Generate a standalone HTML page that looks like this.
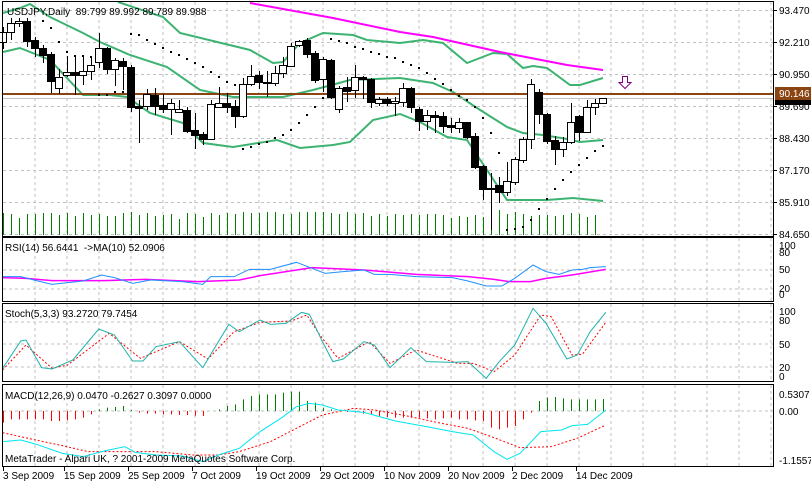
<!DOCTYPE html>
<html><head><meta charset="utf-8"><style>
html,body{margin:0;padding:0;background:#fff;}
svg{display:block;font-family:"Liberation Sans",sans-serif;font-size:10px;}
</style></head><body>
<svg id="s" width="811" height="483" xmlns="http://www.w3.org/2000/svg">
<rect width="811" height="483" fill="#fff"/>
<g id="grid" stroke="#c0c0c0" stroke-dasharray="3,3" stroke-width="1"></g>
<g id="g"></g>
<g fill="none" stroke="#000" stroke-width="1">
<rect x="2.5" y="1.5" width="771" height="235"/>
<rect x="2.5" y="237.5" width="771" height="64"/>
<rect x="2.5" y="303.5" width="771" height="78"/>
<rect x="2.5" y="384.5" width="771" height="82"/>
</g>
<g fill="#000">
<text x="7" y="15">USDJPY,Daily&#160; 89.799 89.992 89.789 89.988</text>
<text x="5" y="251">RSI(14) 56.6441 &#160;-&gt;MA(10) 52.0906</text>
<text x="5" y="317">Stoch(5,3,3) 93.2720 79.7454</text>
<text x="5" y="399">MACD(12,26,9) 0.0470 -0.2627 0.3097 0.0000</text>
<text x="5" y="462">MetaTrader - Alpari UK, ? 2001-2009 MetaQuotes Software Corp.</text>
</g>
<g id="ax" fill="#000"></g>
</svg>
<script>
var NS="http://www.w3.org/2000/svg",g=document.getElementById('g'),grid=document.getElementById('grid'),ax=document.getElementById('ax');
function el(p,t,a){var e=document.createElementNS(NS,t);for(var k in a)e.setAttribute(k,a[k]);p.appendChild(e);return e;}
function txt(p,x,y,s,a){var e=el(p,'text',Object.assign({x:x,y:y},a||{}));e.textContent=s;return e;}
function line(x1,y1,x2,y2,c,w,p){return el(p||g,'line',{x1:x1,y1:y1,x2:x2,y2:y2,stroke:c,'stroke-width':w||1});}
function poly(pts,c,w,dash){var a={points:pts.map(function(p){return p[0]+','+p[1]}).join(' '),fill:'none',stroke:c,'stroke-width':w||1};if(dash)a['stroke-dasharray']=dash;el(g,'polyline',a);}
// vertical grid
for(var x=35;x<773;x+=32){[[2,236],[238,301],[304,381],[385,466]].forEach(function(r){line(x,r[0],x,r[1],'#c0c0c0',1,grid);});}
// horizontal grid main
var prices=['93.470','92.210','90.950','89.690','88.430','87.170','85.910','84.650'];
prices.forEach(function(p,i){var y=10+32*i;line(3,y+.5,773,y+.5,'#c0c0c0',1,grid);line(773,y+.5,777,y+.5,'#000',1,ax);txt(ax,779,y+4,p);});
[270,289].forEach(function(y){line(3,y,773,y,'#c0c0c0',1,grid)});
txt(ax,779,249,'100');txt(ax,779,256,'80');txt(ax,779,273,'50');txt(ax,779,292,'20');txt(ax,779,298,'0');
[322,344,367].forEach(function(y){line(3,y,773,y,'#c0c0c0',1,grid)});
txt(ax,779,315,'100');txt(ax,779,324,'80');txt(ax,779,348,'50');txt(ax,779,371,'20');txt(ax,779,380,'0');
line(3,411,773,411,'#c0c0c0',1,grid);
txt(ax,779,398,'0.5307');txt(ax,779,415,'0.00');txt(ax,779,464,'-1.1557');
// volume
var vh=[22,21,17,21,21,22,22,20,22,19,22,20,21,19,19,22,23,20,22,19,20,21,16,22,21,18,22,20,22,21,23,22,22,23,23,21,21,23,23,23,23,22,21,23,21,22,19,21,19,21,20,21,20,21,21,20,17,19,18,20,18,22,25,21,23,21,19,20,20,19,20,22,21,18,20,0];
vh.forEach(function(h,i){var x=3+8*i+.5;line(x,235,x,235-h,'#008000',1);});
// bands
poly([[3,13],[20,8],[30,4],[50,17],[83,33],[100,42],[130,55],[167,67],[200,90],[233,97],[283,97],[313,90],[350,80],[400,78],[433,83],[453,92],[477,108],[507,127],[523,133],[543,135],[567,139],[580,142],[603,140]],'#3cb371',2);
poly([[3,52],[20,48],[50,60],[83,95],[110,95],[127,97],[150,113],[183,123],[203,143],[233,147],[277,140],[300,148],[333,145],[350,142],[373,120],[400,114],[420,122],[447,137],[467,140],[487,170],[507,200],[547,200],[573,198],[603,201]],'#3cb371',2);
poly([[118,2],[163,17],[180,33],[250,50],[273,63],[283,62],[300,43],[323,33],[353,35],[367,40],[400,43],[423,40],[443,43],[467,63],[480,58],[493,53],[507,54],[523,68],[533,66],[547,68],[570,85],[580,85],[603,78]],'#3cb371',2);
poly([[250,3],[333,18],[400,32],[433,37],[500,52],[567,65],[603,70]],'#ff00ff',2);
// level lines
line(3,98.5,773,98.5,'#c0c0c0',1);
line(3,94,773,94,'#8b4513',2);
// candles
var C=[[1,32,42,27,49],[1,23,32,18,40],[1,21,23,18,27],[0,21,41,18,47],[0,40,48,37,57],[0,48,55,45,63],[0,54,81,52,93],[1,77,88,69,94],[1,72,75,56,77],[0,72,75,56,95],[1,71,75,56,85],[1,65,71,57,80],[1,48,62,33,68],[0,48,69,47,74],[1,60,69,58,86],[0,61,66,58,90],[0,67,107,65,112],[0,106,108,100,143],[1,94,106,89,110],[0,95,106,88,115],[0,105,109,94,113],[1,103,109,99,135],[1,109,112,100,113],[0,110,131,107,133],[0,130,135,113,149],[0,134,139,132,145],[1,104,139,100,140],[1,103,107,87,108],[0,103,107,93,113],[0,106,116,100,128],[1,84,116,78,118],[1,76,84,65,86],[0,75,82,71,89],[0,82,83,71,97],[1,73,83,66,86],[1,65,73,57,78],[1,46,66,43,67],[1,41,45,40,47],[0,40,54,38,58],[0,53,80,51,83],[1,59,79,57,92],[0,60,97,59,99],[1,88,109,86,113],[0,87,91,77,102],[1,77,90,65,98],[0,77,79,76,99],[0,79,102,78,108],[1,99,103,97,106],[0,99,103,97,106],[1,101,103,97,116],[1,88,102,83,107],[0,88,107,87,113],[0,109,121,107,131],[1,115,121,110,130],[0,115,117,111,133],[0,116,126,112,133],[0,125,127,118,133],[1,122,128,118,133],[0,122,137,122,139],[0,136,167,133,169],[0,166,189,165,200],[0,188,189,173,230],[0,185,192,177,203],[1,181,192,162,196],[1,159,182,157,185],[1,139,160,137,163],[1,84,139,79,149],[0,92,114,89,124],[0,114,141,113,144],[0,140,149,136,165],[1,142,149,137,157],[1,122,142,103,144],[0,116,132,115,141],[1,107,132,100,133],[1,103,107,99,115],[1,98,103,98,103]];
C.forEach(function(c,i){var x=3+8*i;line(x+.5,c[3],x+.5,c[4],'#000',1);var h=Math.max(c[2]-c[1],1);el(g,'rect',{x:x-3.5,y:c[1]+.5,width:7,height:h,fill:c[0]?'#fff':'#000',stroke:'#000','stroke-width':1});});
// SAR dots
var sar=[[43,21],[51,28],[59,42],[67,52],[75,56],[83,56],[91,57],[99,95],[107,95],[115,92],[123,92],[131,34],[139,35],[147,40],[155,44],[163,48],[171,52],[179,55],[187,59],[195,63],[203,67],[211,72],[219,77],[227,82],[235,85],[243,149],[251,147],[259,144],[267,142],[275,138],[283,135],[291,130],[299,123],[307,115],[315,107],[323,98],[331,39],[339,41],[347,43],[355,47],[363,49],[371,52],[379,54],[387,57],[395,58],[403,62],[411,65],[419,68],[427,73],[435,79],[443,84],[451,90],[459,96],[467,100],[475,107],[483,118],[491,133],[499,153],[507,230],[515,229],[523,227],[531,220],[539,209],[547,199],[555,189],[563,180],[571,172],[579,165],[587,158],[595,151],[603,146]];
sar.forEach(function(p){el(g,'rect',{x:p[0]-1,y:p[1]-1,width:2,height:2,fill:'#000'});});
// price tags
el(g,'rect',{x:775,y:99,width:36,height:6,fill:'#000'});
el(g,'rect',{x:775,y:87,width:36,height:13,fill:'#8b4513'});
txt(g,779,97,'90.146',{fill:'#fff'});
// down arrow
el(g,'path',{d:'M622.5,76.5h5v6h3.5l-6,6l-6,-6h3.5z',fill:'#fff',stroke:'#800080','stroke-width':1});
// indicator helpers
function Z(pts,yoff){return pts.map(function(p){return [p[0]/1.923,235+p[1]/3];});}
poly(Z([[5,128],[50,130],[100,137],[200,137],[280,133],[380,140],[460,135],[500,122],[600,98],[700,105],[800,118],[900,125],[950,133],[980,140],[1020,140],[1050,130],[1100,120],[1165,103]]),'#ff00ff',1.5);
poly(Z([[5,125],[40,125],[70,137],[100,148],[130,143],[160,138],[195,120],[220,128],[255,145],[290,135],[350,140],[390,148],[405,125],[450,125],[480,103],[520,103],[570,82],[600,100],[625,115],[660,110],[700,105],[720,118],[750,118],[800,125],[870,128],[900,138],[935,153],[965,153],[990,130],[1025,90],[1050,110],[1075,118],[1100,105],[1120,103],[1135,98],[1165,95]]),'#1e90ff',1);
poly(Z([[5,405],[50,330],[100,400],[130,390],[210,295],[270,370],[345,320],[400,372],[450,290],[500,262],[560,258],[590,240],[615,300],[650,370],[710,320],[750,385],[800,345],[840,365],[880,385],[910,385],[950,410],[990,360],[1040,240],[1060,245],[1100,360],[1120,358],[1165,262]]),'#ff0000',1,'2,2');
poly(Z([[5,400],[40,318],[50,315],[80,398],[100,402],[140,375],[190,282],[220,300],[255,378],[275,378],[300,335],[345,320],[390,398],[440,268],[460,290],[500,255],[520,268],[550,265],[580,232],[595,238],[620,320],[640,380],[660,372],[700,320],[720,330],[750,398],[790,338],[820,380],[870,382],[900,380],[935,430],[960,380],[990,330],[1025,220],[1050,265],[1090,372],[1110,360],[1135,290],[1165,232]]),'#20b2aa',1);
// MACD histogram
var hist=[-35,-25,-25,-25,-25,-25,-30,-30,-28,-25,-20,-10,5,10,12,15,3,-5,-8,-8,-10,-10,-12,-12,-14,-15,0,5,15,20,35,45,50,50,50,55,58,58,30,25,10,5,0,-3,-5,-8,-10,-15,-18,-20,-20,-20,-20,-22,-25,-22,-20,-25,-25,-28,-30,-50,-55,-50,-45,-25,-5,30,40,42,38,35,35,35,35,36];
hist.forEach(function(v,i){var x=3+8*i+.5;if(v===0)return;line(x,411,x,411-v/3,v>0?'#008000':'#ff0000',1);});
poly(Z([[5,593],[60,612],[120,632],[170,650],[240,650],[300,650],[370,660],[420,660],[460,650],[520,620],[570,580],[620,540],[680,520],[720,525],[780,542],[840,562],[900,580],[950,608],[1000,638],[1060,635],[1110,610],[1165,570]]),'#ff0000',1,'2,2');
poly(Z([[5,620],[40,615],[70,628],[120,655],[160,665],[200,648],[240,635],[260,652],[300,660],[350,663],[390,680],[420,660],[460,640],[500,590],[540,550],[570,515],[595,505],[620,510],[650,525],[700,532],[760,558],[820,575],[870,590],[910,600],[950,650],[975,673],[1000,655],[1040,590],[1080,585],[1100,572],[1130,568],[1165,525]]),'#00e5ee',1);
// dates
var d=[[3,'3 Sep 2009'],[64,'15 Sep 2009'],[128,'25 Sep 2009'],[192,'7 Oct 2009'],[256,'19 Oct 2009'],[320,'29 Oct 2009'],[384,'10 Nov 2009'],[448,'20 Nov 2009'],[512,'2 Dec 2009'],[576,'14 Dec 2009']];
d.forEach(function(p){line(p[0]+.5,467,p[0]+.5,471,'#000',1,ax);txt(ax,p[0]+(p[0]<10?0:0),479,p[1],{'text-anchor':p[0]<10?'start':'start'});});
</script>
</body></html>
